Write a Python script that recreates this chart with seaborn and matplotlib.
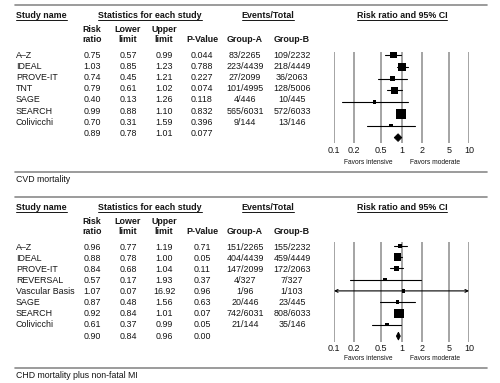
import numpy as np
import matplotlib
matplotlib.use("Agg")
import matplotlib.pyplot as plt
import pandas as pd
import seaborn as sns

sns.set_theme(style="white")
plt.rcParams['font.family'] = ['Liberation Sans', 'DejaVu Sans']

# ---- CVD mortality ----
cvd_names = ["A\u2013Z", "IDEAL", "PROVE-IT", "TNT", "SAGE", "SEARCH", "Colivicchi"]
cvd_rr = [0.75, 1.03, 0.74, 0.79, 0.40, 0.99, 0.70]
cvd_lo = [0.57, 0.85, 0.45, 0.61, 0.13, 0.88, 0.31]
cvd_hi = [0.99, 1.23, 1.21, 1.02, 1.26, 1.10, 1.59]
cvd_p = ["0.044", "0.788", "0.227", "0.074", "0.118", "0.832", "0.396"]
cvd_a = ["83/2265", "223/4439", "27/2099", "101/4995", "4/446", "565/6031", "9/144"]
cvd_b = ["109/2232", "218/4449", "36/2063", "128/5006", "10/445", "572/6033", "13/146"]
cvd_weight = [16.6, 22.0, 7.5, 13.3, 2.9, 35.7, 2.1]
cvd_summary = (0.89, 0.78, 1.01, "0.077")

# ---- CHD mortality plus non-fatal MI ----
chd_names = ["A\u2013Z", "IDEAL", "PROVE-IT", "REVERSAL", "Vascular Basis", "SAGE", "SEARCH", "Colivicchi"]
chd_rr = [0.96, 0.88, 0.84, 0.57, 1.07, 0.87, 0.92, 0.61]
chd_lo = [0.77, 0.78, 0.68, 0.17, 0.07, 0.48, 0.84, 0.37]
chd_hi = [1.19, 1.00, 1.04, 1.93, 16.92, 1.56, 1.01, 0.99]
chd_p = ["0.71", "0.05", "0.11", "0.37", "0.96", "0.63", "0.07", "0.05"]
chd_a = ["151/2265", "404/4439", "147/2099", "4/327", "1/96", "20/446", "742/6031", "21/144"]
chd_b = ["155/2232", "459/4449", "172/2063", "7/327", "1/103", "23/445", "808/6033", "35/146"]
chd_weight = [5.8, 25.4, 9.5, 3.7, 3.7, 3.7, 45.5, 2.7]
chd_summary = (0.90, 0.84, 0.96, "0.00")

ticks = [0.1, 0.2, 0.5, 1, 2, 5, 10]
tick_labels = ["0.1", "0.2", "0.5", "1", "2", "5", "10"]

W, H = 500, 383
TXT = "#151515"
RULE = "#8a8a8a"
FS = 6.4

fig = plt.figure(figsize=(W / 100, H / 100), dpi=100)
bg = fig.add_axes([0, 0, 1, 1])
bg.set_xlim(0, W)
bg.set_ylim(H, 0)
bg.axis("off")

underline_items = []


def txt(x, y, s, **kw):
    kw.setdefault("fontsize", FS)
    kw.setdefault("color", TXT)
    kw.setdefault("va", "center")
    return bg.text(x, y, s, **kw)


def panel(names, rr, lo, hi, pv, ga, gb, weight, summary, caption, lay):
    bg.plot([15, 487], [lay["rule"], lay["rule"]], color=RULE, lw=1.2)
    bg.plot([15, 487], [lay["bottom"], lay["bottom"]], color=RULE, lw=1.2)
    txt(16, lay["caption"], caption, fontsize=6.3)

    hy = lay["head"]
    for x, s, ha in [(16, "Study name", "left"), (150, "Statistics for each study", "center"),
                     (268, "Events/Total", "center"), (402, "Risk ratio and 95% CI", "center")]:
        underline_items.append(txt(x, hy, s, ha=ha, fontweight="bold"))

    for x, s in [(92, "Risk"), (128, "Lower"), (164, "Upper")]:
        txt(x, lay["sub1"], s, ha="center", fontweight="bold")
    for x, s in [(92, "ratio"), (128, "limit"), (164, "limit"), (202, "P-Value"),
                 (245, "Group-A"), (292, "Group-B")]:
        txt(x, lay["sub2"], s, ha="center", fontweight="bold")

    n = len(names)
    for i in range(n + 1):
        y = lay["row0"] + i * lay["dy"]
        if i < n:
            txt(16, y, names[i])
            vals = [rr[i], lo[i], hi[i]]
            p, a, b = pv[i], ga[i], gb[i]
        else:
            vals = summary[:3]
            p, a, b = summary[3], "", ""
        for x, v in zip([92, 128, 164], vals):
            txt(x, y, f"{v:.2f}", ha="center")
        txt(202, y, p, ha="center")
        txt(245, y, a, ha="center")
        txt(292, y, b, ha="center")

    # forest plot
    g0, g1 = lay["grid"]
    ax = fig.add_axes([334 / W, 1 - g1 / H, 135 / W, (g1 - g0) / H])
    ax.set_xscale("log")
    ax.set_xlim(0.1, 10)
    r0 = (g0 - lay["frow0"]) / lay["fdy"]
    r1 = (g1 - lay["frow0"]) / lay["fdy"]
    ax.set_ylim(r1, r0)
    for sp in ax.spines.values():
        sp.set_visible(False)
    ax.set_facecolor("none")
    for t in ticks:
        ax.axvline(t, color="#8c8c8c", lw=1.1, zorder=0)
    ax.set_xticks(ticks)
    ax.set_xticklabels(tick_labels)
    ax.xaxis.set_minor_locator(matplotlib.ticker.NullLocator())
    ax.tick_params(axis="x", length=0, pad=lay["pad"], labelsize=6.5, colors=TXT)
    ax.set_yticks([])

    df = pd.DataFrame({"row": np.arange(n), "rr": rr, "lo": lo, "hi": hi, "w": weight})
    for _, r in df.iterrows():
        if r["lo"] < 0.1 or r["hi"] > 10:
            ax.annotate("", xy=(max(r["lo"], 0.1), r["row"]), xytext=(min(r["hi"], 10), r["row"]),
                        arrowprops=dict(arrowstyle="<->", lw=0.8, color="black",
                                        mutation_scale=5, shrinkA=0, shrinkB=0))
        else:
            ax.plot([r["lo"], r["hi"]], [r["row"], r["row"]], color="black", lw=0.8, zorder=2)
    wmax = max(weight)
    smax = 50
    sns.scatterplot(data=df, x="rr", y="row", size="w", sizes=(smax * min(weight) / wmax + 2.5, smax),
                    size_norm=(min(weight), wmax), marker="s", color="black", linewidth=0,
                    legend=False, ax=ax, zorder=3)
    ax.set_xlabel("")
    ax.set_ylabel("")

    s_rr, s_lo, s_hi = summary[:3]
    hh = lay["dhalf"] / lay["fdy"]
    ax.fill([s_lo, s_rr, s_hi, s_rr], [n, n - hh, n, n + hh], color="black", zorder=3, lw=0.6,
            edgecolor="black")

    txt(368, lay["fav"], "Favors intensive", ha="center", fontsize=4.8)
    txt(435, lay["fav"], "Favors moderate", ha="center", fontsize=4.8)


panel(cvd_names, cvd_rr, cvd_lo, cvd_hi, cvd_p, cvd_a, cvd_b, cvd_weight, cvd_summary,
      "CVD mortality",
      dict(rule=5, head=16, sub1=30, sub2=39.5, row0=55, dy=11.24, bottom=172, caption=179.5,
           grid=(51.7, 143), frow0=55, fdy=11.8, pad=2.2, dhalf=3.8, fav=163))
panel(chd_names, chd_rr, chd_lo, chd_hi, chd_p, chd_a, chd_b, chd_weight, chd_summary,
      "CHD mortality plus non-fatal MI",
      dict(rule=197, head=207.5, sub1=222, sub2=231.5, row0=247.3, dy=11.09, bottom=368,
           caption=375, grid=(241.7, 341.7), frow0=245.7, fdy=11.3, pad=1.4, dhalf=3.9, fav=358))

# underline the bold headers
fig.canvas.draw()
inv = bg.transData.inverted()
for t in underline_items:
    bb = t.get_window_extent()
    (x0, y0), (x1, _) = inv.transform([[bb.x0, bb.y0], [bb.x1, bb.y1]])
    bg.plot([x0, x1], [y0 - 0.3, y0 - 0.3], color=TXT, lw=0.7)

fig.savefig("out.png", dpi=100)
